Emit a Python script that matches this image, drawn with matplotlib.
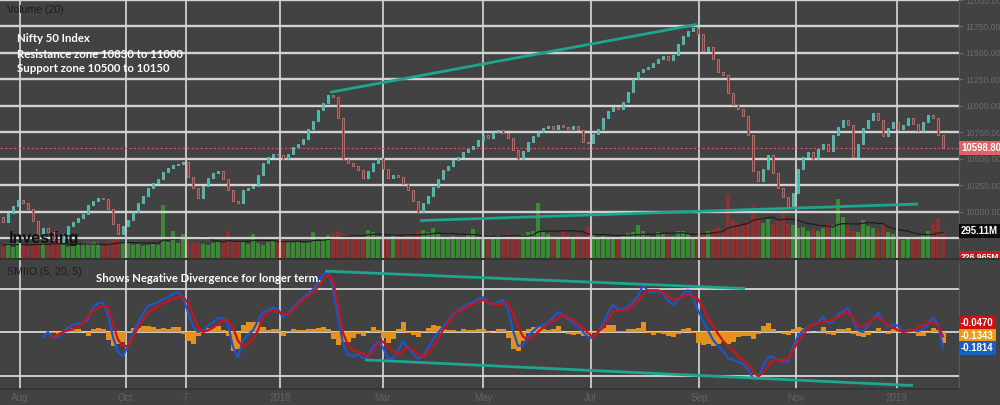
import numpy as np
import pandas as pd
import matplotlib
matplotlib.use("Agg")
import matplotlib.pyplot as plt
from matplotlib.patches import Rectangle
from matplotlib.lines import Line2D

# Nifty 50, one candle per ~2 sessions, Jul 2017 -> Jan 2019
first_open = 9950
closes = [
    9900, 9990, 10050, 10110, 10080, 10020, 9910, 9780, 9840, 9810,
    9730, 9710, 9790, 9860, 9900, 9940, 9980, 10060, 10100, 10130,
    10120, 10020, 9880, 9790, 9860, 9920, 10000, 10080, 10150, 10220,
    10270, 10310, 10370, 10410, 10440, 10450, 10470, 10330, 10220, 10130,
    10240, 10320, 10360, 10380, 10310, 10200, 10100, 10080, 10200, 10220,
    10240, 10350, 10460, 10520, 10540, 10530, 10500, 10540, 10610, 10640,
    10690, 10780, 10860, 10960, 11030, 11100, 11080, 10880, 10500, 10460,
    10430, 10390, 10320, 10380, 10460, 10510, 10400, 10320, 10350, 10330,
    10260, 10200, 10100, 10000, 10080, 10150, 10230, 10310, 10390, 10430,
    10490, 10520, 10560, 10590, 10620, 10680, 10720, 10700, 10750, 10770,
    10740, 10700, 10580, 10500, 10570, 10660, 10710, 10750, 10790, 10810,
    10780, 10820, 10800, 10780, 10810, 10770, 10660, 10650, 10730, 10780,
    10880, 10950, 10990, 10970, 11040, 11130, 11250, 11320, 11350, 11370,
    11400, 11440, 11470, 11430, 11480, 11580, 11660, 11710, 11740, 11680,
    11520, 11560, 11440, 11320, 11290, 11120, 11010, 10970, 10900, 10720,
    10380, 10290, 10400, 10530, 10360, 10220, 10140, 10040, 10180, 10400,
    10520, 10560, 10500, 10590, 10640, 10570, 10720, 10800, 10870, 10820,
    10520, 10640, 10790, 10870, 10930, 10870, 10710, 10790, 10850, 10780,
    10820, 10880, 10830, 10760, 10850, 10910, 10880, 10720, 10599,
]
last_price = 10598.80

# volume, millions
volumes = [
    140, 160, 120, 170, 140, 130, 150, 180, 160, 140,
    190, 170, 140, 120, 130, 150, 140, 160, 170, 140,
    150, 180, 200, 210, 170, 160, 140, 150, 130, 140,
    150, 140, 580, 170, 300, 160, 260, 190, 180, 160,
    150, 140, 160, 170, 190, 300, 200, 170, 180, 150,
    260, 160, 140, 170, 190, 170, 200, 180, 170, 190,
    170, 180, 280, 200, 210, 250, 270, 300, 260, 240,
    230, 220, 250, 310, 280, 240, 260, 230, 250, 240,
    230, 270, 240, 300, 310, 280, 330, 260, 230, 220,
    240, 210, 230, 250, 320, 220, 210, 240, 230, 250,
    220, 260, 240, 230, 250, 280, 300, 600, 290, 260,
    240, 230, 290, 250, 220, 260, 240, 340, 260, 230,
    240, 220, 210, 230, 250, 270, 280, 360, 300, 240,
    230, 280, 260, 250, 240, 300, 290, 270, 230, 280,
    260, 300, 320, 340, 300, 700, 420, 380, 360, 400,
    580, 450, 380, 430, 360, 400, 490, 370, 360, 330,
    340, 300, 320, 290, 330, 380, 360, 650, 450, 350,
    300, 280, 410, 350, 330, 300, 360, 280, 260, 240,
    200, 210, 220, 230, 260, 300, 380, 440, 295,
]

# SMIIO (5, 20, 5)
smi_start = 8
smi_line = [
    -0.06, 0.00, -0.07, -0.06, 0.00, 0.05, 0.08, 0.10, 0.10, 0.14,
    0.28, 0.33, 0.34, 0.20, -0.06, -0.23, -0.28, -0.15, -0.01, 0.10,
    0.21, 0.30, 0.32, 0.34, 0.38, 0.40, 0.44, 0.46, 0.39, 0.23,
    0.06, 0.00, 0.02, 0.07, 0.11, 0.16, 0.16, 0.09, -0.17, -0.29,
    -0.09, -0.03, 0.02, 0.13, 0.23, 0.25, 0.28, 0.26, 0.17, 0.21,
    0.28, 0.34, 0.39, 0.44, 0.49, 0.57, 0.66, 0.70, 0.51, 0.16,
    -0.13, -0.26, -0.28, -0.25, -0.30, -0.28, -0.17, -0.11, -0.18, -0.30,
    -0.30, -0.22, -0.11, -0.18, -0.24, -0.31, -0.28, -0.18, -0.09, -0.01,
    0.06, 0.13, 0.20, 0.25, 0.29, 0.32, 0.34, 0.38, 0.40, 0.33,
    0.32, 0.34, 0.37, 0.26, 0.02, -0.16, -0.15, -0.05, 0.01, 0.06,
    0.08, 0.11, 0.17, 0.23, 0.20, 0.15, 0.11, 0.07, 0.00, -0.06,
    -0.07, 0.00, 0.10, 0.22, 0.31, 0.26, 0.26, 0.29, 0.34, 0.41,
    0.54, 0.47, 0.45, 0.47, 0.44, 0.36, 0.31, 0.37, 0.44, 0.48,
    0.40, 0.25, 0.13, 0.02, -0.09, -0.16, -0.22, -0.30, -0.32, -0.34,
    -0.37, -0.43, -0.53, -0.53, -0.40, -0.29, -0.28, -0.32, -0.34, -0.34,
    -0.17, -0.05, 0.02, 0.06, 0.08, 0.11, 0.17, 0.11, 0.11, 0.20,
    0.24, 0.28, 0.14, 0.02, 0.00, 0.07, 0.15, 0.22, 0.13, 0.05,
    0.09, 0.07, 0.00, 0.02, 0.02, 0.01, 0.03, 0.09, 0.16, 0.09,
    -0.18,
]
sig_start = 10
sig_line = [
    -0.06, -0.03, 0.00, 0.02, 0.03, 0.06, 0.10, 0.18, 0.24, 0.28,
    0.30, 0.29, 0.10, -0.09, -0.16, -0.16, -0.06, 0.05, 0.14, 0.23,
    0.26, 0.30, 0.33, 0.36, 0.38, 0.40, 0.41, 0.33, 0.20, 0.05,
    0.00, 0.02, 0.05, 0.09, 0.14, 0.14, 0.05, -0.10, -0.17, -0.14,
    -0.09, 0.02, 0.17, 0.23, 0.25, 0.23, 0.21, 0.20, 0.25, 0.32,
    0.37, 0.41, 0.45, 0.52, 0.60, 0.66, 0.59, 0.31, -0.01, -0.15,
    -0.21, -0.23, -0.25, -0.28, -0.23, -0.13, -0.11, -0.17, -0.22, -0.26,
    -0.22, -0.17, -0.21, -0.25, -0.29, -0.23, -0.17, -0.08, 0.02, 0.11,
    0.18, 0.24, 0.26, 0.30, 0.32, 0.34, 0.37, 0.34, 0.32, 0.31,
    0.33, 0.33, 0.22, 0.06, -0.05, -0.09, -0.05, 0.00, 0.05, 0.09,
    0.13, 0.16, 0.20, 0.17, 0.14, 0.09, 0.05, -0.01, -0.06, 0.00,
    0.05, 0.14, 0.23, 0.25, 0.25, 0.26, 0.31, 0.36, 0.43, 0.48,
    0.48, 0.48, 0.46, 0.41, 0.37, 0.39, 0.41, 0.43, 0.41, 0.38,
    0.28, 0.16, 0.07, -0.02, -0.10, -0.16, -0.21, -0.28, -0.32, -0.38,
    -0.45, -0.51, -0.47, -0.39, -0.32, -0.32, -0.32, -0.31, -0.21, -0.11,
    -0.03, 0.05, 0.08, 0.10, 0.11, 0.13, 0.14, 0.17, 0.21, 0.23,
    0.16, 0.07, 0.06, 0.10, 0.15, 0.17, 0.13, 0.07, 0.05, 0.02,
    0.00, 0.01, 0.02, 0.05, 0.08, 0.10, 0.11, 0.07, -0.05,
]
smi_last = -0.1814
sig_last = -0.0470
hist_last = -0.1343

tick_pos = [3.4, 24.5, 36.5, 55.4, 76.0, 96.0, 117.5, 139.2, 158.6, 178.7]
tick_lbl = ["Aug", "Oct", "7", "2018", "Mar", "May", "Jul", "Sep", "Nov", "2019"]

# hand drawn trend lines: (x0, y0, x1, y1) in bar / value units
price_trends = [(65.4, 11127, 138.8, 11769), (83.4, 9915, 183.0, 10071)]
smi_trends = [(64.4, 0.70, 148.4, 0.50), (72.4, -0.32, 182.0, -0.615)]

notes = ["Nifty 50 Index", "Resistance zone 10830 to 11000", "Support zone 10500 to 10150"]

# ---------------------------------------------------------------
BG = "#424242"
W, H = 1000, 405
plt.rcParams["font.family"] = ["Liberation Sans", "DejaVu Sans"]

def fx(px):
    return px / W

def fy(py):
    return 1 - py / H

fig = plt.figure(figsize=(10, 4.05), dpi=100, facecolor=BG)
ax = fig.add_axes([0, fy(258), fx(959), 258 / H])
axv = ax.twinx()
ax2 = fig.add_axes([0, fy(389), fx(959), (389 - 260) / H], sharex=ax)

ax.set_zorder(axv.get_zorder() + 1)
ax.patch.set_visible(False)
axv.patch.set_facecolor(BG)
ax2.set_facecolor(BG)

n = len(closes)
x = np.arange(n)
c = np.array(closes, float)
o = np.r_[first_open, c[:-1]]
up = c >= o

# candles
body_lo = np.minimum(o, c)
body_h = np.maximum(np.abs(c - o), 8)
ax.bar(x, body_h, bottom=body_lo, width=0.55,
       color=np.where(up, "#1fc6b3", "#952c2c"),
       edgecolor=np.where(up, "#7cc9c0", "#c98585"), linewidth=0.5, zorder=3)
ax.axhline(last_price, color="#e05555", lw=0.8, ls=(0, (2, 2)), zorder=2.5)

# volume
v = np.array(volumes, float)
axv.bar(x, v, width=0.8, color=np.where(up, "#3a8a33", "#8c3131"), zorder=2)
axv.plot(x, pd.Series(v).rolling(10, min_periods=1).mean(), color="#1e1e1e", lw=0.9, zorder=3)
axv.axhline(220, color="#d0d0d0", lw=1.6, zorder=4)
axv.set_ylim(0, 258 * 295.11 / 27)
axv.set_yticks([])
for s in axv.spines.values():
    s.set_visible(False)

for x0, y0, x1, y1 in price_trends:
    ax.plot([x0, x1], [y0, y1], color="#1ea58f", lw=2.0, solid_capstyle="butt", zorder=5)

ax.set_ylim(9561, 11995)
ax.set_yticks(np.arange(10000, 12001, 250))
ax.yaxis.tick_right()
ax.yaxis.set_major_formatter(matplotlib.ticker.FormatStrFormatter("%.2f"))
ax.tick_params(axis="y", length=3, width=0.8, color="#6a6a6a", labelcolor="#6a6a6a",
               labelsize=6.2, pad=1.5)
ax.tick_params(axis="x", length=0, labelbottom=False)
ax.grid(axis="y", color="#d2d2d2", lw=1.7, zorder=1.5)
ax.grid(axis="x", color="#c4c4c4", lw=1.4, zorder=1.5)
for k, s in ax.spines.items():
    s.set_visible(k == "right")
ax.spines["right"].set_color("#595959")

# SMIIO pane
xs = np.arange(smi_start, smi_start + len(smi_line))
xg = np.arange(sig_start, sig_start + len(sig_line))
smi = pd.Series(smi_line, index=xs)
sig = pd.Series(sig_line, index=xg)
hist = (smi - sig).dropna()
ax2.bar(hist.index, hist.values, width=1.0, color="#e3921f", zorder=2)
ax2.plot(xs, smi_line, color="#1f55c8", lw=1.6, zorder=3)
ax2.plot(xg, sig_line, color="#c8141c", lw=1.6, zorder=3.1)
for x0, y0, x1, y1 in smi_trends:
    ax2.plot([x0, x1], [y0, y1], color="#1ea58f", lw=2.0, solid_capstyle="butt", zorder=5)

ax2.set_ylim(-0.655, 0.828)
ax2.set_yticks([-0.5, 0.0, 0.5])
ax2.yaxis.tick_right()
ax2.set_yticklabels(["-0.5000", "", "0.5000"])
ax2.tick_params(axis="y", length=3, width=0.8, color="#6a6a6a", labelcolor="#6a6a6a",
                labelsize=6.2, pad=1.5)
ax2.grid(axis="y", color="#d8d8d8", lw=1.3, zorder=1.5)
ax2.grid(axis="x", color="#c4c4c4", lw=1.4, zorder=1.5)
ax2.set_xticks(tick_pos)
ax2.set_xticklabels(tick_lbl)
ax2.tick_params(axis="x", length=0, labelsize=7, labelcolor="#626262", pad=3)
for k, s in ax2.spines.items():
    s.set_visible(k in ("right", "bottom"))
ax2.spines["right"].set_color("#595959")
ax2.spines["bottom"].set_color("#343434")
ax2.spines["bottom"].set_linewidth(1.2)
ax.set_xlim(-0.6, 191.2)

# texts
fig.text(fx(7), fy(10), "Volume (20)", fontsize=7.6, color="#1c1c1c", va="center")
fig.text(fx(7), fy(272), "SMIIO (5, 20, 5)", fontsize=7.6, color="#1c1c1c", va="center")
for i, t in enumerate(notes):
    fig.text(fx(17), fy(39 + 15 * i), t, fontsize=8.2, color="white", weight="bold",
             family=["Lato", "DejaVu Sans"], va="center")
fig.text(fx(96), fy(278), "Shows Negative Divergence for longer term.", fontsize=8.2,
         color="white", weight="bold", family=["Lato", "DejaVu Sans"], va="center")
fig.text(fx(9), fy(239), "Investing", fontsize=11.5, weight="bold", color="#111111", va="center")
fig.text(fx(80), fy(243), ".com", fontsize=6.5, color="#5a5a5a", va="center")

# separator between panes
fig.add_artist(Line2D([0, 1], [fy(259), fy(259)], color="#333333", lw=1.5, zorder=6))

def tag(py, s, fc, z=7, size=6.9):
    fig.text(fx(961), fy(py), s, fontsize=size, color="white", weight="bold", va="center",
             ha="left", zorder=z,
             bbox=dict(boxstyle="square,pad=0.22", fc=fc, ec="none"))

tag(148, f"{last_price:.2f}", "#e06262")
tag(231, "295.11M", "#0c0c0c")
tag(257, "226.965M", "#cc1a1a", z=4, size=6.2)
fig.add_artist(Rectangle((fx(959.5), 0), 1 - fx(959.5), fy(259.5), fc=BG, ec="none", zorder=5))
tag(323, f"{sig_last:.4f}", "#cc0f0f")
tag(336, f"{hist_last:.4f}", "#f19a17")
tag(348, f"{smi_last:.4f}", "#1c5cc9")

fig.savefig("out.png", dpi=100, facecolor=BG)
